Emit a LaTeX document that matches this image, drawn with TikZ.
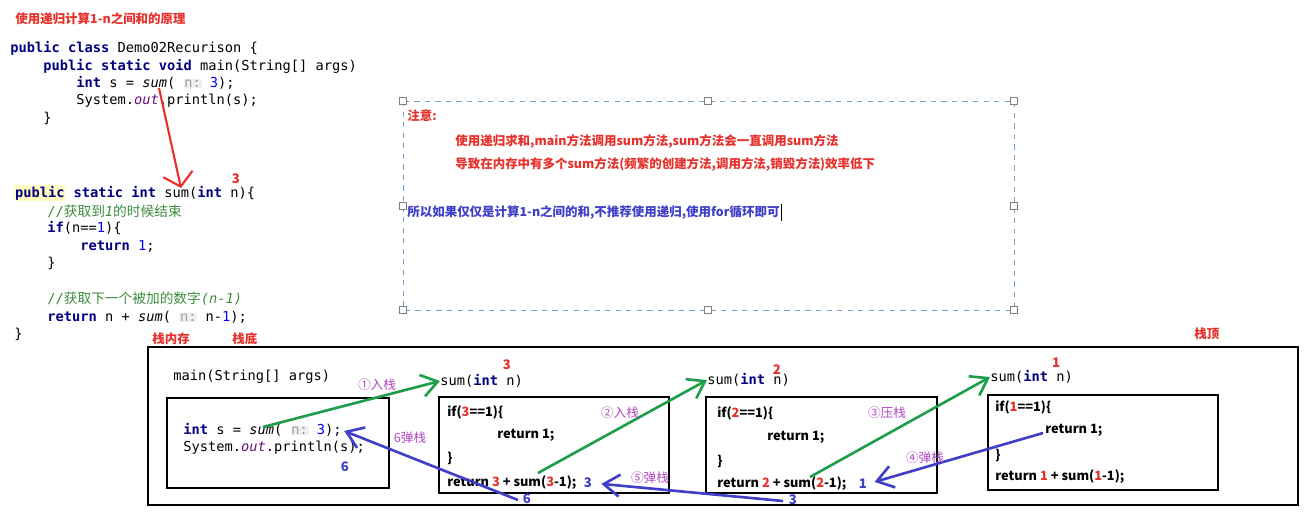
\documentclass[tikz,border=0pt]{standalone}
\usepackage{fontspec}
\setmonofont{DejaVu Sans Mono}
\newfontfamily\cjk{Noto Sans CJK SC}
\usetikzlibrary{arrows.meta}

\definecolor{kwc}{HTML}{000080}
\definecolor{numc}{HTML}{0000FF}
\definecolor{cmtc}{HTML}{3C8C3C}
\definecolor{fldc}{HTML}{660E7A}
\definecolor{hotc}{HTML}{E8302A}
\definecolor{pushc}{HTML}{1E9E4A}
\definecolor{popc}{HTML}{3F3FC8}
\definecolor{stepc}{HTML}{B146C2}
\definecolor{notec}{HTML}{6FA3D0}

\newcommand{\kw}[1]{{\color{kwc}\bfseries #1}}
\newcommand{\nm}[1]{{\color{numc}#1}}
\newcommand{\rd}[1]{{\color{hotc}#1}}
\newcommand{\hint}[1]{{\setlength{\fboxsep}{0.4pt}\colorbox{gray!12}{\color{gray!75}#1}}}
\newcommand{\hl}[1]{{\setlength{\fboxsep}{0.4pt}\colorbox{yellow!25}{#1}}}

\begin{document}
\begin{tikzpicture}[x=0.02cm,y=-0.02cm,
  code/.style={anchor=west,inner sep=0pt,font=\ttfamily\fontsize{7.8}{9}\selectfont},
  bx/.style={anchor=west,inner sep=0pt,font=\cjk\bfseries\fontsize{7.3}{9}\selectfont},
  redtxt/.style={anchor=west,inner sep=0pt,text=hotc,font=\cjk\bfseries\fontsize{7.1}{8}\selectfont},
  notetxt/.style={anchor=west,inner sep=0pt,font=\cjk\bfseries\fontsize{7.1}{9}\selectfont},
  stepno/.style={inner sep=0pt,text=stepc,font=\cjk\fontsize{7.2}{8}\selectfont},
  val/.style={inner sep=0pt,text=popc,font=\cjk\bfseries\fontsize{7.5}{8}\selectfont},
  arg/.style={inner sep=0pt,text=hotc,font=\cjk\bfseries\fontsize{7.5}{8}\selectfont},
  frame/.style={draw=black,line width=1.6pt},
  handle/.style={draw=gray,fill=white,line width=0.4pt,inner sep=0pt,minimum size=4pt},
  push/.style={draw=pushc,line width=1.5pt,-{Straight Barb[length=3.2mm,width=4.4mm]}},
  pop/.style={draw=popc,line width=1.5pt,-{Straight Barb[length=3.2mm,width=4.4mm]}},
  call/.style={draw=hotc,line width=1.2pt,-{Straight Barb[length=2.6mm,width=6mm]}}]
\useasboundingbox (0,0) rectangle (1308,522);

\node[redtxt] (title) at (15,19) {使用递归计算1-n之间和的原理};

\node[code] (cls) at (10,48) {\kw{public class} Demo02Recurison \{};
\node[code] (mainm) at (43,66) {\kw{public static void} main(String[] args)};
\node[code] (call) at (76,83) {\kw{int} s = \textit{sum}( \hint{n:} \nm{3});};
\node[code] (prt) at (76,101) {System.\textit{\color{fldc}out}.println(s);};
\node[code] (mainend) at (43,118) {\}};

\node[code] (sig) at (14,193) {\hl{\kw{public}} \kw{static int} sum(\kw{int} n)\{};
\node[code] (cmt1) at (47,211) {\color{cmtc}//{\cjk 获取到}\textit{1}{\cjk 的时候结束}};
\node[code] (iff) at (47,228) {\kw{if}(n==\nm{1})\{};
\node[code] (ret1) at (80,246) {\kw{return} \nm{1};};
\node[code] (iffend) at (47,263) {\}};
\node[code] (cmt2) at (47,299) {\color{cmtc}//{\cjk 获取下一个被加的数字}\textit{(n-1)}};
\node[code] (retn) at (47,317) {\kw{return} n + \textit{sum}( \hint{n:} n-\nm{1});};
\node[code] (sigend) at (14,334) {\}};
\node[arg] (arg0) at (236,179) {3};

\coordinate (callpt) at (159,88);
\coordinate (sigpt) at (181,188);
\draw[call] (callpt) -- (sigpt);

\draw[draw=notec,dashed,line width=0.5pt] (403,101) rectangle (1014,310);
\foreach \x/\y [count=\i] in {403/101,708/101,1014/101,403/206,1014/206,403/310,708/310,1014/310}
  \node[handle] (h\i) at (\x,\y) {};
\node[notetxt,text=hotc] (note0) at (407,116) {注意:};
\node[notetxt,text=hotc] (note1) at (455,141) {使用递归求和,main方法调用sum方法,sum方法会一直调用sum方法};
\node[notetxt,text=hotc] (note2) at (455,164) {导致在内存中有多个sum方法(频繁的创建方法,调用方法,销毁方法)效率低下};
\node[notetxt,text=popc] (note3) at (407,212) {所以如果仅仅是计算1-n之间的和,不推荐使用递归,使用for循环即可};
\draw[line width=0.6pt] (note3.east) ++(2,-8) -- ++(0,17);

\node[redtxt] (stackmem) at (152,339) {栈内存};
\node[redtxt] (bottom) at (232,339) {栈底};
\node[redtxt] (top) at (1194,334) {栈顶};
\draw[frame] (148,347) rectangle (1298,505);

\node[code] (mainsig) at (173,377) {main(String[] args)};
\draw[frame] (167,398) rectangle (389,488);
\node[code] (s0) at (183,430) {\kw{int} s = \textit{sum}( \hint{n:} \nm{3});};
\node[code] (p0) at (183,448) {System.\textit{\color{fldc}out}.println(s);};
\node[val] (v6a) at (345,467) {6};

\node[code] (sig2) at (440,381) {sum(\kw{int} n)};
\node[arg] (arg2) at (507,365) {3};
\draw[frame] (439,397) rectangle (669,493);
\node[bx] (if2) at (447,412) {if(\rd{3}==1)\{};
\node[bx] (one2) at (497,435) {return 1;};
\node[bx] (end2) at (447,458) {\}};
\node[bx] (ret2) at (447,483) {return \rd{3} + sum(\rd{3}-1);};
\node[val] (v3a) at (588,483) {3};

\node[code] (sig3) at (707,380) {sum(\kw{int} n)};
\node[arg] (arg3) at (777,370) {2};
\draw[frame] (706,397) rectangle (937,493);
\node[bx] (if3) at (717,413) {if(\rd{2}==1)\{};
\node[bx] (one3) at (767,437) {return 1;};
\node[bx] (end3) at (717,461) {\}};
\node[bx] (ret3) at (717,484) {return \rd{2} + sum(\rd{2}-1);};
\node[val] (v1) at (863,484) {1};

\node[code] (sig4) at (990,377) {sum(\kw{int} n)};
\node[arg] (arg4) at (1056,363) {1};
\draw[frame] (988,395) rectangle (1218,490);
\node[bx] (if4) at (995,407) {if(\rd{1}==1)\{};
\node[bx] (one4) at (1045,430) {return 1;};
\node[bx] (end4) at (995,455) {\}};
\node[bx] (ret4) at (995,477) {return \rd{1} + sum(\rd{1}-1);};

\node[val] (v6b) at (527,499) {6};
\node[val] (v3b) at (793,500) {3};

\coordinate (c1) at (263,427);
\coordinate (c2) at (538,473);
\coordinate (c3) at (810,477);
\coordinate (r4) at (1043,433);
\coordinate (r5) at (783,501);
\coordinate (r6) at (518,500);
\draw[push] (c1) -- (sig2.west);
\draw[push] (c2) -- (sig3.west);
\draw[push] (c3) -- (sig4.west);
\draw[pop,shorten >=1.5mm] (r4) -- (v1.east);
\draw[pop,shorten >=1.8mm] (r5) -- (v3a.east);
\draw[pop,shorten >=0.5mm] (r6) -- (s0.east);

\node[stepno] (st1) at (377,385) {①入栈};
\node[stepno] (st2) at (620,413) {②入栈};
\node[stepno] (st3) at (887,413) {③压栈};
\node[stepno] (st4) at (925,458) {④弹栈};
\node[stepno] (st5) at (650,478) {⑤弹栈};
\node[stepno] (st6) at (410,438) {6弹栈};
\end{tikzpicture}
\end{document}
